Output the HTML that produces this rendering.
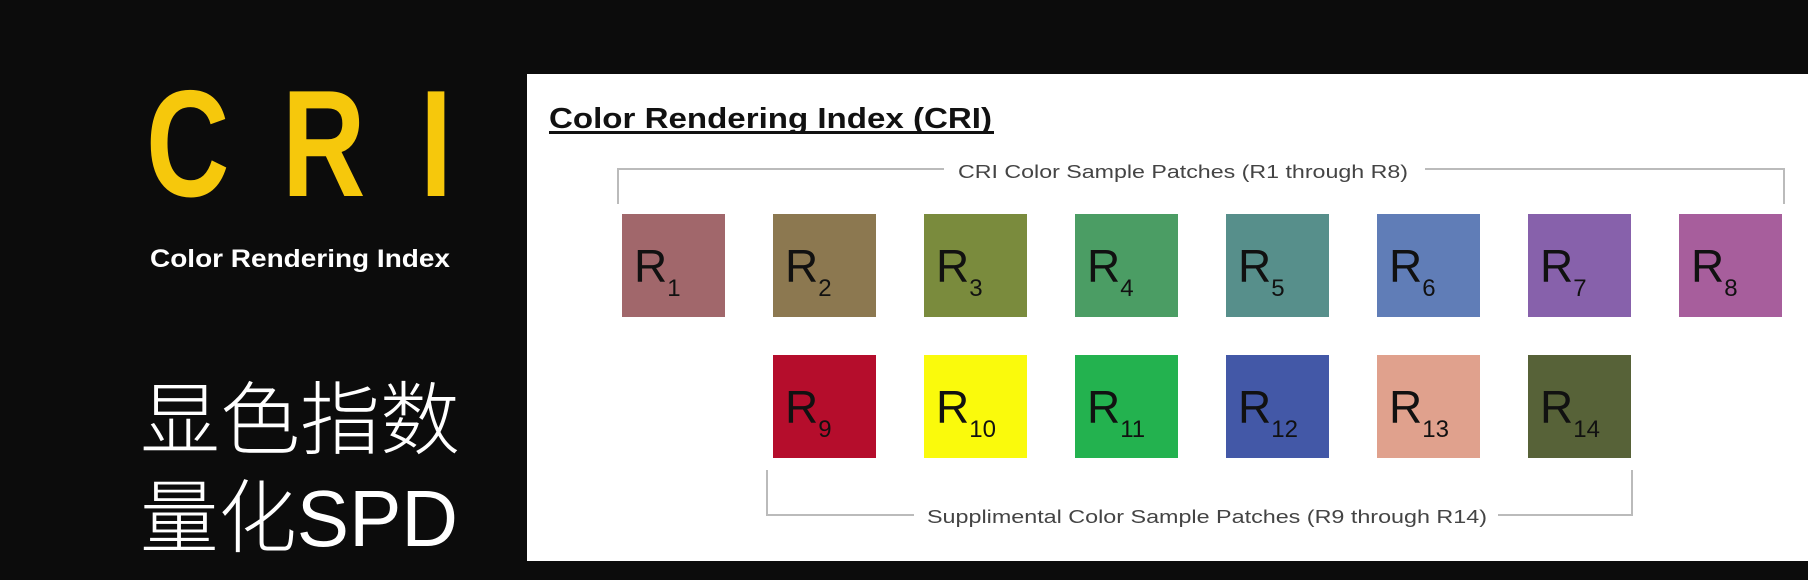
<!DOCTYPE html>
<html><head><meta charset="utf-8"><style>
html,body{margin:0;padding:0;background:#0c0c0c;width:1808px;height:580px;overflow:hidden}
svg{display:block}
</style></head><body>
<svg width="1808" height="580" viewBox="0 0 1808 580" font-family="Liberation Sans, sans-serif">
<rect x="0" y="0" width="1808" height="580" fill="#0c0c0c"/>
<g fill="#f6c80c" font-weight="bold" font-size="152">
<text x="0" y="196" transform="translate(146,0) scale(0.76,1)">C</text>
<text x="0" y="196" transform="translate(282,0) scale(0.76,1)">R</text>
<text x="0" y="196" transform="translate(420,0) scale(0.76,1)">I</text>
</g>
<text x="150" y="267" fill="#fff" font-weight="bold" font-size="25" textLength="300" lengthAdjust="spacingAndGlyphs">Color Rendering Index</text>
<text x="140" y="448" fill="#fff" font-size="80" font-weight="300" font-family="Liberation Sans, Noto Sans CJK SC, sans-serif">显色指数</text>
<text x="140" y="546" fill="#fff" font-size="80" font-weight="300" font-family="Liberation Sans, Noto Sans CJK SC, sans-serif" textLength="318" lengthAdjust="spacingAndGlyphs">量化SPD</text>
<rect x="527" y="74" width="1281" height="487" fill="#fff"/>
<text x="549" y="128" font-size="29" font-weight="bold" fill="#111" textLength="443" lengthAdjust="spacingAndGlyphs">Color Rendering Index (CRI)</text>
<rect x="549" y="131" width="445" height="3" fill="#111"/>
<g stroke="#bbb" stroke-width="2" fill="none">
<polyline points="618,204 618,169 944,169"/><polyline points="1425,169 1784,169 1784,204"/>
</g>
<text x="958" y="178" font-size="18" fill="#444" textLength="450" lengthAdjust="spacingAndGlyphs">CRI Color Sample Patches (R1 through R8)</text>
<g stroke="#bbb" stroke-width="2" fill="none">
<polyline points="767,470 767,515 914,515"/><polyline points="1498,515 1632,515 1632,470"/>
</g>
<text x="927" y="523" font-size="18" fill="#444" textLength="560" lengthAdjust="spacingAndGlyphs">Supplimental Color Sample Patches (R9 through R14)</text>
<g id="patches"></g>
</svg>
<script>
const patchIds=[1,2,3,4,5,6,7,8,9,10,11,12,13,14];
const patchColors=["#a1676b","#8c7850","#7a8b3d","#4b9d64","#578f8b","#607db7","#8761ab","#a75e9c","#b50d2c","#fafa0c","#23b24f","#4358a7","#e0a18d","#576238"];
const patchRow=[0,0,0,0,0,0,0,0,1,1,1,1,1,1];
const patchCol=[0,1,2,3,4,5,6,7,1,2,3,4,5,6];
const NS="http://www.w3.org/2000/svg";
const g=document.getElementById('patches');
const colX=c=>622+c*151, rowY=r=>214+r*141, S=103;
patchIds.forEach((id,i)=>{
  const x=colX(patchCol[i]), y=rowY(patchRow[i]);
  const r=document.createElementNS(NS,'rect');
  r.setAttribute('x',x);r.setAttribute('y',y);r.setAttribute('width',S);r.setAttribute('height',S);r.setAttribute('fill',patchColors[i]);
  
  
  g.appendChild(r);
  const t=document.createElementNS(NS,'text');
  t.setAttribute('x',x+12);t.setAttribute('y',y+68);t.setAttribute('font-size','46');t.setAttribute('fill','#111');
  
  
  t.textContent='R';
  const s=document.createElementNS(NS,'tspan');
  s.setAttribute('font-size','24');s.setAttribute('dy','14');
  s.textContent=String(id);
  t.appendChild(s);
  g.appendChild(t);
});
</script>
</body></html>
